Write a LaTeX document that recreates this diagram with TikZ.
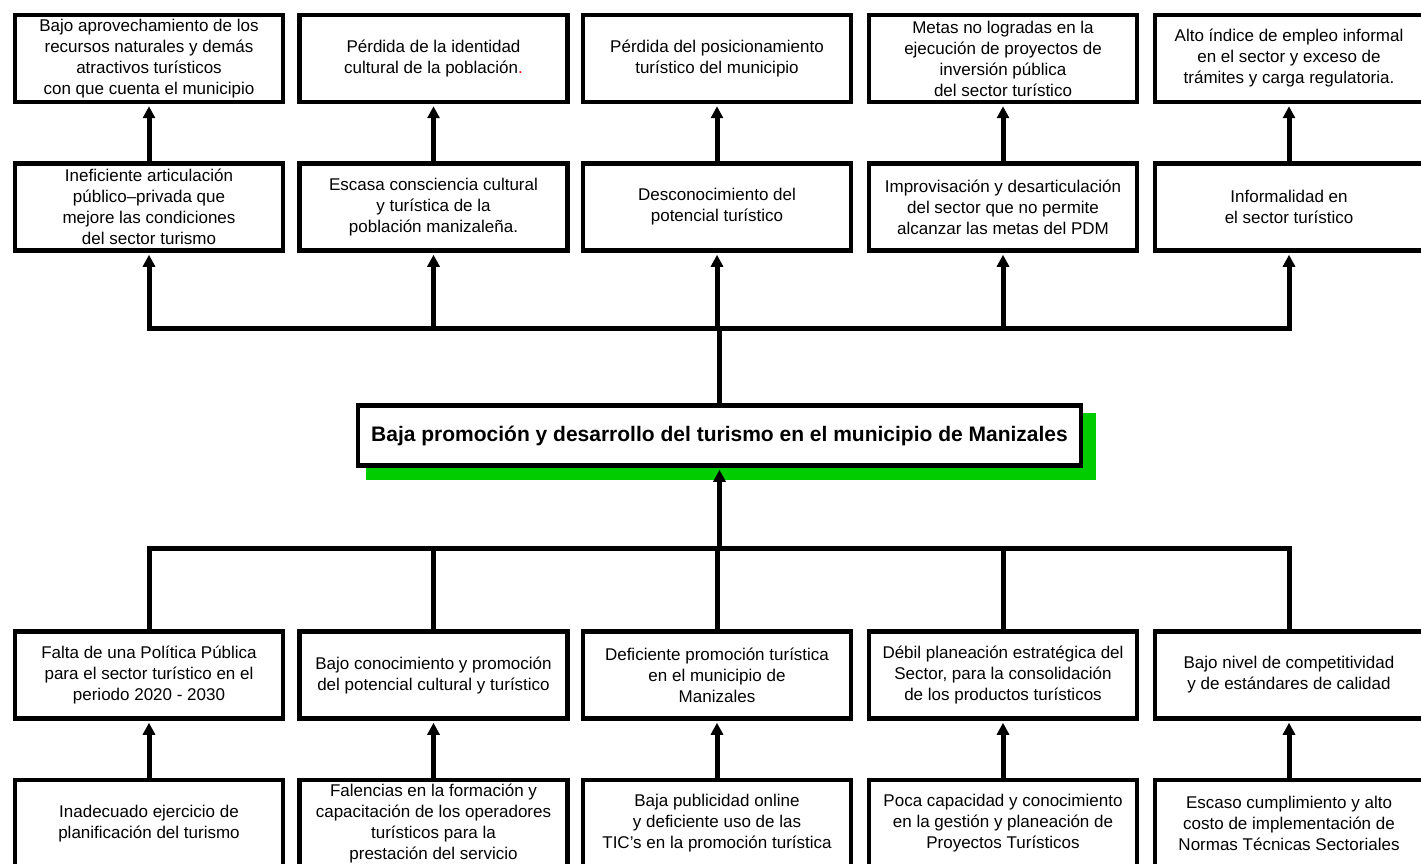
\documentclass[tikz,border=0pt]{standalone}
\usepackage{fontspec}
\setmainfont{Liberation Sans}
\usetikzlibrary{arrows.meta}
\definecolor{shgreen}{RGB}{0,204,0}
\tikzset{
  cbox/.style={draw=black, line width=4.5pt, fill=white, minimum width=268pt, minimum height=87pt,
    inner sep=0pt, align=center, font=\fontsize{17pt}{21pt}\selectfont},
  titlebox/.style={draw=black, line width=4.5pt, fill=white, minimum width=723pt, minimum height=60pt,
    inner sep=0pt, align=center, font=\bfseries\fontsize{21pt}{25pt}\selectfont},
  conn/.style={line width=5pt},
  bus/.style={line width=5pt, line cap=rect},
  arr/.style={line width=5pt, -{Triangle[width=12pt,length=12pt]}, shorten >=2pt},
}
\begin{document}
\begin{tikzpicture}[x=1pt,y=-1pt]
\useasboundingbox (0,0) rectangle (1421,864);
\clip (0,0) rectangle (1421,864);
% row 1 (effects)
\node[cbox] (a1) at (149,58.5) {Bajo aprovechamiento de los\\recursos naturales y demás\\atractivos turísticos\\con que cuenta el municipio};
\node[cbox] (a2) at (433.5,58.5) {Pérdida de la identidad\\cultural de la población\textcolor{red}{.}};
\node[cbox] (a3) at (717,58.5) {Pérdida del posicionamiento\\turístico del municipio};
\node[cbox] (a4) at (1003,58.5) {Metas no logradas en la\\ejecución de proyectos de\\inversión pública\\del sector turístico};
\node[cbox] (a5) at (1289,58.5) {Alto índice de empleo informal\\en el sector y exceso de\\trámites y carga regulatoria.};
% row 2
\node[cbox] (b1) at (149,207) {Ineficiente articulación\\público–privada que\\mejore las condiciones\\del sector turismo};
\node[cbox] (b2) at (433.5,207) {Escasa consciencia cultural\\y turística de la\\población manizaleña.};
\node[cbox] (b3) at (717,207) {Desconocimiento del\\potencial turístico};
\node[cbox] (b4) at (1003,207) {Improvisación y desarticulación\\del sector que no permite\\alcanzar las metas del PDM};
\node[cbox] (b5) at (1289,207) {Informalidad en\\el sector turístico};
% central problem
\fill[shgreen] (366,413) rectangle (1096,480);
\node[titlebox] (t) at (719.5,435.5) {Baja promoción y desarrollo del turismo en el municipio de Manizales};
% row 3 (causes)
\node[cbox] (c1) at (149,675) {Falta de una Política Pública\\para el sector turístico en el\\periodo 2020 - 2030};
\node[cbox] (c2) at (433.5,675) {Bajo conocimiento y promoción\\del potencial cultural y turístico};
\node[cbox] (c3) at (717,675) {Deficiente promoción turística\\en el municipio de\\Manizales};
\node[cbox] (c4) at (1003,675) {Débil planeación estratégica del\\Sector, para la consolidación\\de los productos turísticos};
\node[cbox] (c5) at (1289,675) {Bajo nivel de competitividad\\y de estándares de calidad};
% row 4
\node[cbox] (d1) at (149,823.5) {Inadecuado ejercicio de\\planificación del turismo};
\node[cbox] (d2) at (433.5,823.5) {Falencias en la formación y\\capacitación de los operadores\\turísticos para la\\prestación del servicio};
\node[cbox] (d3) at (717,823.5) {Baja publicidad online\\y deficiente uso de las\\TIC’s en la promoción turística};
\node[cbox] (d4) at (1003,823.5) {Poca capacidad y conocimiento\\en la gestión y planeación de\\Proyectos Turísticos};
\node[cbox] (d5) at (1289,823.5) {Escaso cumplimiento y alto\\costo de implementación de\\Normas Técnicas Sectoriales};
% bus coordinates
\coordinate (tb) at (0,328);
\coordinate (bb) at (0,548.5);
% upper connectors
\foreach \i in {1,...,5}{
  \draw[arr] (b\i.north) -- (a\i.south);
  \draw[arr] (b\i.south |- tb) -- (b\i.south);
  \draw[arr] (d\i.north) -- (c\i.south);
  \draw[conn] (c\i.north |- bb) -- (c\i.north);
}
\draw[bus] (b1.south |- tb) -- (b5.south |- tb);
\draw[conn] (t.north) -- (t.north |- tb);
\draw[bus] (c1.north |- bb) -- (c5.north |- bb);
\draw[arr] (t.south |- bb) -- (t.south);
\end{tikzpicture}
\end{document}
